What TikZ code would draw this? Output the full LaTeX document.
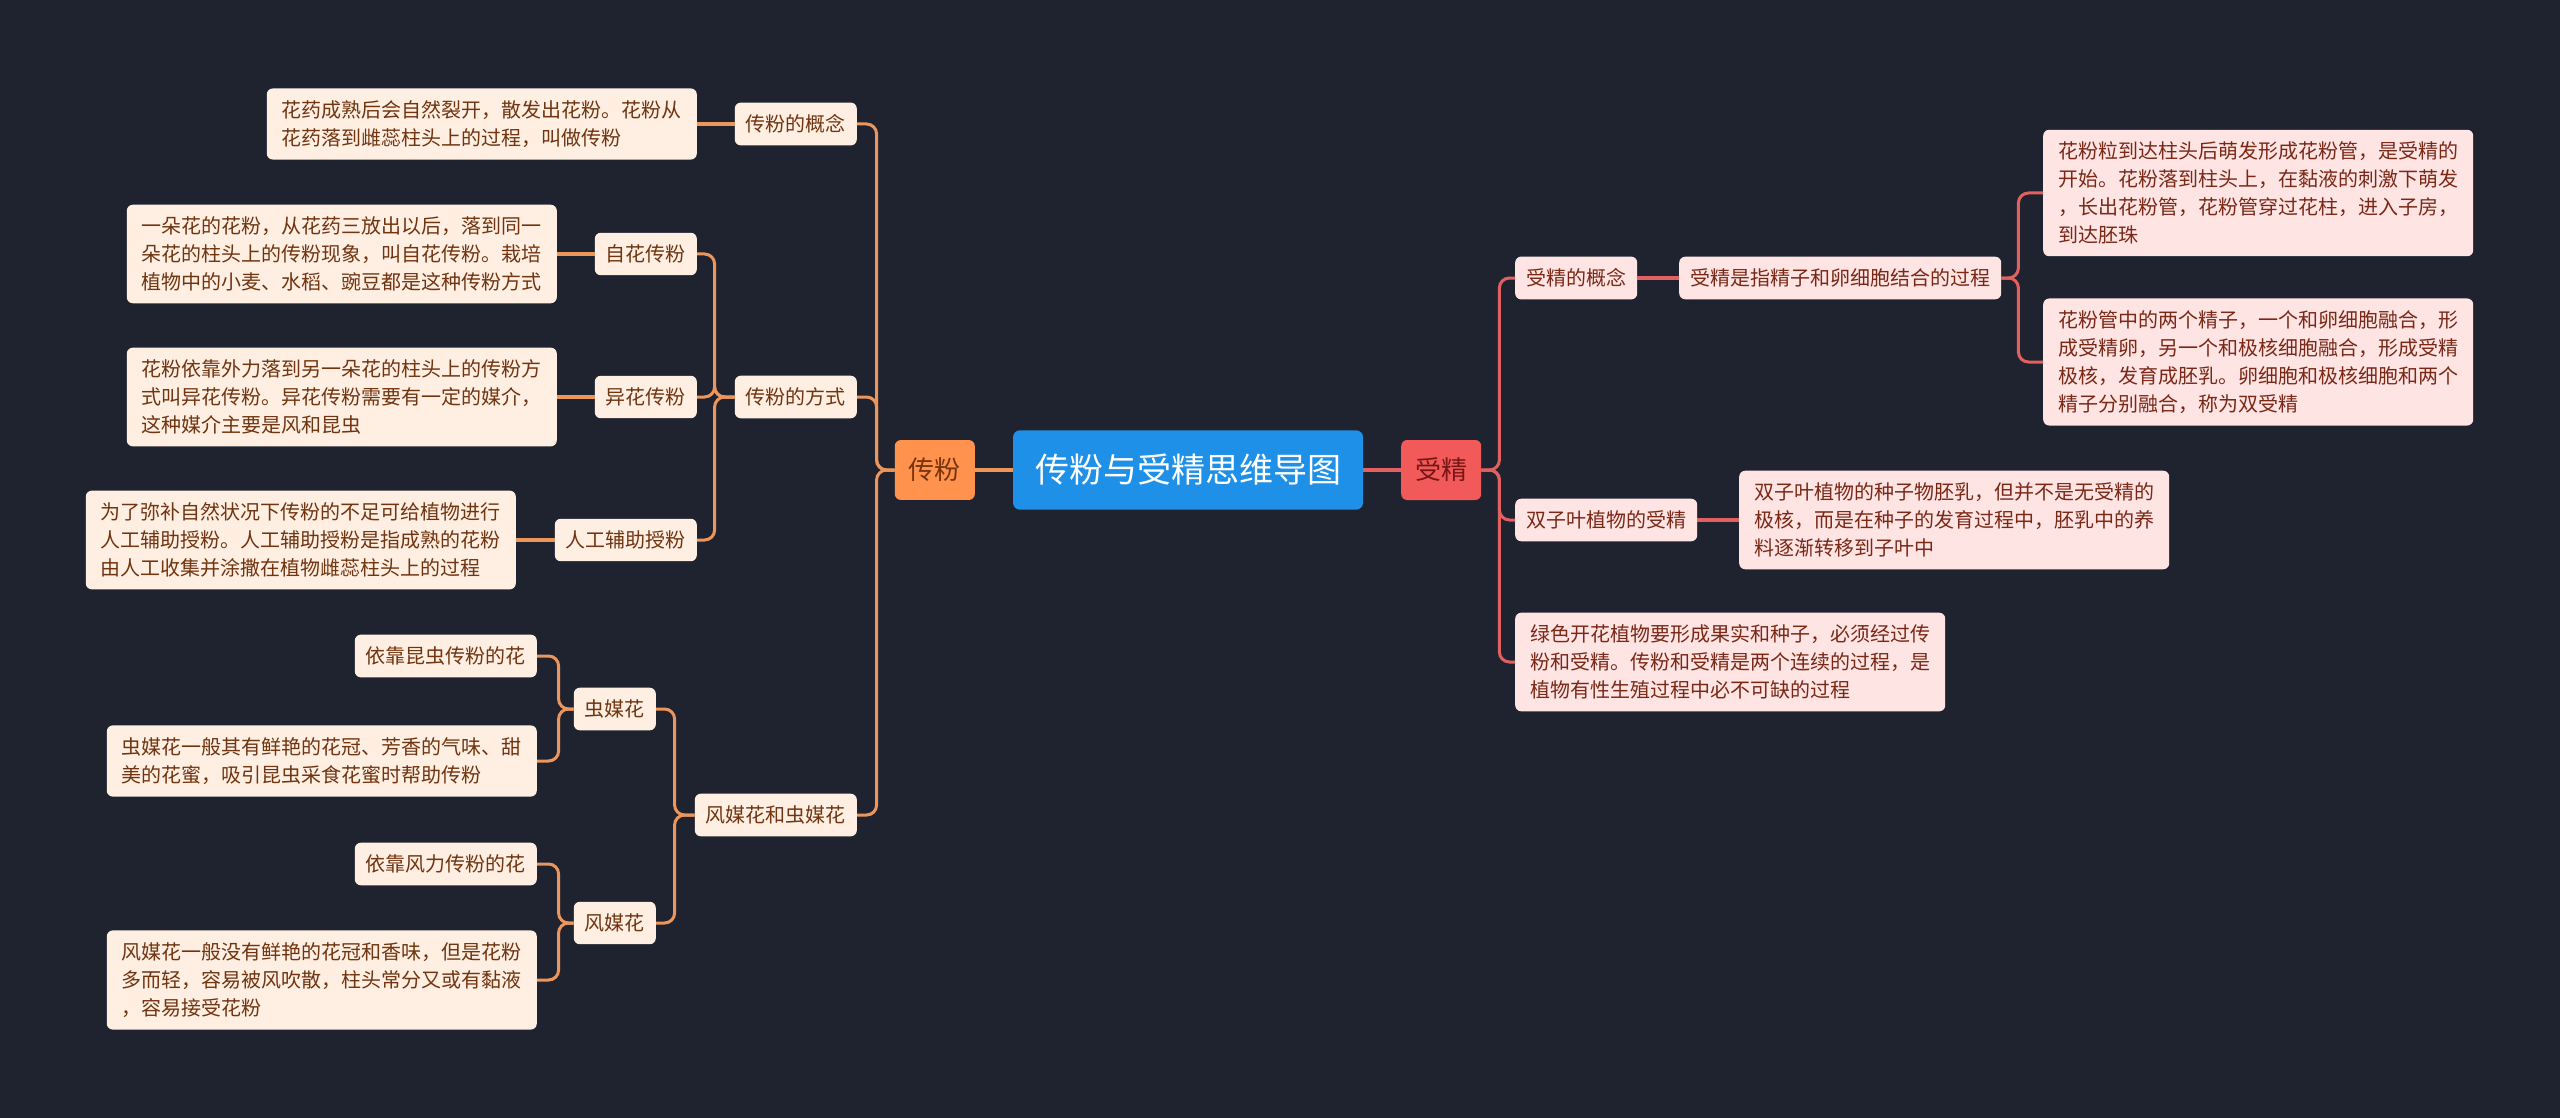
\documentclass[tikz,border=0pt]{standalone}
\usepackage{fontspec}
\setmainfont{Noto Sans CJK SC}
\definecolor{bg}{RGB}{31,35,48}
\definecolor{lfill}{RGB}{255,239,226}
\definecolor{ltext}{RGB}{112,52,16}
\definecolor{rfill}{RGB}{255,228,228}
\definecolor{rtext}{RGB}{122,40,22}
\definecolor{lcol}{RGB}{236,150,92}
\definecolor{rcol}{RGB}{226,96,96}
\definecolor{rootfill}{RGB}{30,144,232}
\definecolor{cffill}{RGB}{255,146,76}
\definecolor{cftext}{RGB}{120,52,12}
\definecolor{sjfill}{RGB}{242,90,90}
\definecolor{sjtext}{RGB}{120,22,22}
\tikzset{
  basebox/.style={rounded corners=6pt, inner xsep=11pt, inner ysep=12pt, font=\fontsize{20}{28}\selectfont, align=left},
  lbox/.style={basebox, fill=lfill, text=ltext},
  lleaf/.style={lbox, inner xsep=15pt},
  rbox/.style={basebox, fill=rfill, text=rtext},
  rleaf/.style={rbox, inner xsep=15pt},
  lconn/.style={draw=lcol, line width=3pt, rounded corners=10pt},
  rconn/.style={draw=rcol, line width=3pt, rounded corners=10pt},
}
\begin{document}
\begin{tikzpicture}[x=1pt,y=-1pt]
\useasboundingbox (0,0) rectangle (2560,1118);
\fill[bg] (0,0) rectangle (2560,1118);

% root and main branches
\node[fill=rootfill, text=white, rounded corners=7pt, inner xsep=22pt, inner ysep=24pt, font=\fontsize{34}{40}\selectfont] (root) at (1188,470) {传粉与受精思维导图};
\node[fill=cffill, text=cftext, rounded corners=6pt, inner xsep=14pt, inner ysep=18pt, font=\fontsize{26}{30}\selectfont, anchor=east] (cf) at (975,470) {传粉};
\node[fill=sjfill, text=sjtext, rounded corners=6pt, inner xsep=14pt, inner ysep=18pt, font=\fontsize{26}{30}\selectfont, anchor=west] (sj) at (1401,470) {受精};

% left level 2
\node[lbox, anchor=east] (gn) at (857,124) {传粉的概念};
\node[lbox, anchor=east] (fs) at (857,397) {传粉的方式};
\node[lbox, anchor=east] (fm) at (857,815) {风媒花和虫媒花};

\node[lleaf, anchor=east] (t1) at (697,124) {花药成熟后会自然裂开，散发出花粉。花粉从\\花药落到雌蕊柱头上的过程，叫做传粉};

\node[lbox, anchor=east] (zh) at (697,254) {自花传粉};
\node[lbox, anchor=east] (yh) at (697,397) {异花传粉};
\node[lbox, anchor=east] (rg) at (697,540) {人工辅助授粉};
\node[lleaf, anchor=east] (t3) at (557,254) {一朵花的花粉，从花药三放出以后，落到同一\\朵花的柱头上的传粉现象，叫自花传粉。栽培\\植物中的小麦、水稻、豌豆都是这种传粉方式};
\node[lleaf, anchor=east] (t5) at (557,397) {花粉依靠外力落到另一朵花的柱头上的传粉方\\式叫异花传粉。异花传粉需要有一定的媒介，\\这种媒介主要是风和昆虫};
\node[lleaf, anchor=east] (t8) at (516,540) {为了弥补自然状况下传粉的不足可给植物进行\\人工辅助授粉。人工辅助授粉是指成熟的花粉\\由人工收集并涂撒在植物雌蕊柱头上的过程};

\node[lbox, anchor=east] (cm) at (656,709) {虫媒花};
\node[lbox, anchor=east] (fmh) at (656,923) {风媒花};
\node[lbox, anchor=east] (kc) at (537,656) {依靠昆虫传粉的花};
\node[lleaf, anchor=east] (t12) at (537,761) {虫媒花一般其有鲜艳的花冠、芳香的气味、甜\\美的花蜜，吸引昆虫采食花蜜时帮助传粉};
\node[lbox, anchor=east] (fl) at (537,864) {依靠风力传粉的花};
\node[lleaf, anchor=east] (t16) at (537,980) {风媒花一般没有鲜艳的花冠和香味，但是花粉\\多而轻，容易被风吹散，柱头常分又或有黏液\\，容易接受花粉};

% right
\node[rbox, anchor=west] (sg) at (1515,278) {受精的概念};
\node[rbox, anchor=west] (sd) at (1679,278) {受精是指精子和卵细胞结合的过程};
\node[rleaf, anchor=west] (t19) at (2043,193) {花粉粒到达柱头后萌发形成花粉管，是受精的\\开始。花粉落到柱头上，在黏液的刺激下萌发\\，长出花粉管，花粉管穿过花柱，进入子房，\\到达胚珠};
\node[rleaf, anchor=west] (t20) at (2043,362) {花粉管中的两个精子，一个和卵细胞融合，形\\成受精卵，另一个和极核细胞融合，形成受精\\极核，发育成胚乳。卵细胞和极核细胞和两个\\精子分别融合，称为双受精};
\node[rbox, anchor=west] (sz) at (1515,520) {双子叶植物的受精};
\node[rleaf, anchor=west] (t22) at (1739,520) {双子叶植物的种子物胚乳，但并不是无受精的\\极核，而是在种子的发育过程中，胚乳中的养\\料逐渐转移到子叶中};
\node[rleaf, anchor=west] (t23) at (1515,662) {绿色开花植物要形成果实和种子，必须经过传\\粉和受精。传粉和受精是两个连续的过程，是\\植物有性生殖过程中必不可缺的过程};

% connectors root
\draw[draw=lcol, line width=4.5pt] (root.west) -- (cf.east);
\draw[draw=rcol, line width=4.5pt] (root.east) -- (sj.west);

% left connectors
\foreach \c in {gn,fs,fm}
  \draw[lconn] (cf.west) -- ([xshift=-18pt]cf.west) |- (\c.east);
\draw[lconn, line width=4pt] (gn.west) -- (t1.east);
\foreach \c in {zh,yh,rg}
  \draw[lconn] (fs.west) -- ([xshift=-20pt]fs.west) |- (\c.east);
\draw[lconn, line width=4pt] (zh.west) -- (t3.east);
\draw[lconn, line width=4pt] (yh.west) -- (t5.east);
\draw[lconn, line width=4pt] (rg.west) -- (t8.east);
\foreach \c in {cm,fmh}
  \draw[lconn] (fm.west) -- ([xshift=-20pt]fm.west) |- (\c.east);
\foreach \c in {kc,t12}
  \draw[lconn] (cm.west) -- ([xshift=-15pt]cm.west) |- (\c.east);
\foreach \c in {fl,t16}
  \draw[lconn] (fmh.west) -- ([xshift=-15pt]fmh.west) |- (\c.east);

% right connectors
\foreach \c in {sg,sz,t23}
  \draw[rconn] (sj.east) -- ([xshift=18pt]sj.east) |- (\c.west);
\draw[rconn, line width=4pt] (sg.east) -- (sd.west);
\foreach \c in {t19,t20}
  \draw[rconn] (sd.east) -- ([xshift=17pt]sd.east) |- (\c.west);
\draw[rconn, line width=4pt] (sz.east) -- (t22.west);
\end{tikzpicture}
\end{document}
